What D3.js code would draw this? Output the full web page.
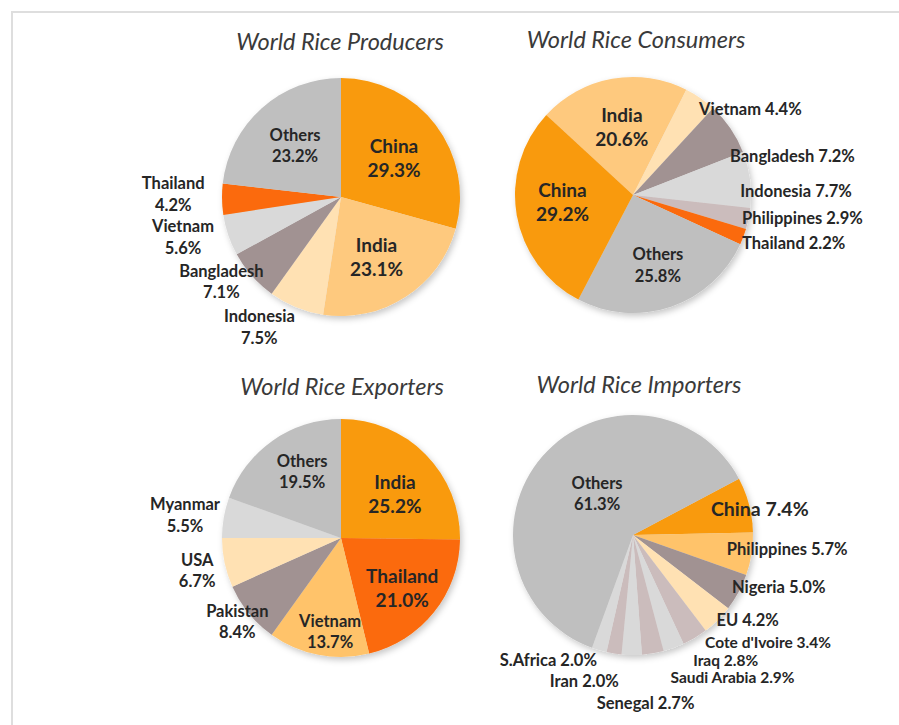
<!DOCTYPE html>
<html>
<head>
<meta charset="utf-8">
<script src="https://cdn.jsdelivr.net/npm/d3@7"></script>
<style>
  html, body { margin: 0; padding: 0; background: #fff; }
  svg { display: block; }
</style>
</head>
<body>
<svg id="chart" width="899" height="725"></svg>
<script>
// ---- data: shares of world rice (%) ----
const producerNames  = ["China", "India", "Indonesia", "Bangladesh", "Vietnam", "Thailand", "Others"];
const producerValues = [29.3, 23.1, 7.5, 7.1, 5.6, 4.2, 23.2];

const consumerNames  = ["India", "Vietnam", "Bangladesh", "Indonesia", "Philippines", "Thailand", "Others", "China"];
const consumerValues = [20.6, 4.4, 7.2, 7.7, 2.9, 2.2, 25.8, 29.2];

const exporterNames  = ["India", "Thailand", "Vietnam", "Pakistan", "USA", "Myanmar", "Others"];
const exporterValues = [25.2, 21.0, 13.7, 8.4, 6.7, 5.5, 19.5];

const importerNames  = ["China", "Philippines", "Nigeria", "EU", "Cote d'Ivoire", "Iraq", "Saudi Arabia", "Senegal", "Iran", "S.Africa", "Others"];
const importerValues = [7.4, 5.7, 5.0, 4.2, 3.4, 2.8, 2.9, 2.7, 2.0, 2.0, 61.3];

const titles = ["World Rice Producers", "World Rice Consumers", "World Rice Exporters", "World Rice Importers"];

// ---- palette ----
const C = {
  orange: "#f99a0e",
  lightOrange: "#fec97e",
  amber: "#ffc36a",
  peach: "#ffe1b3",
  mauve: "#a19292",
  lightGray: "#d9d9d9",
  rosy: "#cbbcbc",
  red: "#fb6a08",
  gray: "#bfbfbf"
};
const producerColors = [C.orange, C.lightOrange, C.peach, C.mauve, C.lightGray, C.red, C.gray];
const consumerColors = [C.lightOrange, C.peach, C.mauve, C.lightGray, C.rosy, C.red, C.gray, C.orange];
const exporterColors = [C.orange, C.red, C.amber, C.mauve, C.peach, C.lightGray, C.gray];
const importerColors = [C.orange, C.amber, C.mauve, C.peach, C.rosy, C.lightGray, C.rosy, C.lightGray, C.rosy, C.lightGray, C.gray];

// ---- label placement: k = radius factor, da = angle shift (deg) from slice middle ----
const big = 19, small = 16.5, side = 16.5, tight = 15.5;
const producerLayout = [
  { k: 0.56, da: 0,   size: big },
  { k: 0.58, da: 2,   size: big },
  { k: 1.29, da: 10,  size: small },
  { k: 1.23, da: 6.4, size: small },
  { k: 1.37, da: 4.5, size: small },
  { k: 1.41, da: 2.1, size: small },
  { k: 0.58, da: 0,   size: small }
];
const consumerLayout = [
  { k: 0.59,  da: 1,    size: big },
  { k: 0.92,  da: 2.7,  size: side, inline: true, anchor: "start" },
  { k: 0.886, da: 12.4, size: side, inline: true, anchor: "start" },
  { k: 0.91,  da: 5.4,  size: side, inline: true, anchor: "start" },
  { k: 0.944, da: 0.3,  size: side, inline: true, anchor: "start" },
  { k: 1.01,  da: 3.1,  size: side, inline: true, anchor: "start" },
  { k: 0.63,  da: -0.7, size: small },
  { k: 0.6,   da: 5,    size: big }
];
const exporterLayout = [
  { k: 0.59,  da: 4.8,  size: big },
  { k: 0.66,  da: 0.3,  size: big },
  { k: 0.79,  da: -4.3, size: small },
  { k: 1.12,  da: 0.3,  size: small },
  { k: 1.24,  da: -0.8, size: small },
  { k: 1.325, da: -1.5, size: small },
  { k: 0.65,  da: 4.9,  size: small }
];
const importerLayout = [
  { k: 1.08,  da: 2.6,   size: 19.5,  inline: true },
  { k: 1.29,  da: -3.9,  size: side,  inline: true },
  { k: 1.29,  da: -8.8,  size: side,  inline: true },
  { k: 1.19,  da: -8.6,  size: side,  inline: true },
  { k: 1.436, da: -20.5, size: tight, inline: true },
  { k: 1.30,  da: -16.6, size: tight, inline: true },
  { k: 1.445, da: -25.5, size: tight, inline: true },
  { k: 1.40,  da: -4.9,  size: side,  inline: true },
  { k: 1.28,  da: 9.4,   size: side,  inline: true },
  { k: 1.26,  da: 17.7,  size: side,  inline: true },
  { k: 0.46,  da: 8.4,   size: small }
];

const panels = [
  { names: producerNames, values: producerValues, colors: producerColors, layout: producerLayout,
    title: titles[0], cx: 341, cy: 197, r: 119, start: 0,     tx: 340, ty: 50 },
  { names: consumerNames, values: consumerValues, colors: consumerColors, layout: consumerLayout,
    title: titles[1], cx: 633, cy: 195, r: 118, start: -47.3, tx: 636, ty: 48 },
  { names: exporterNames, values: exporterValues, colors: exporterColors, layout: exporterLayout,
    title: titles[2], cx: 341, cy: 538, r: 119, start: 0,     tx: 342, ty: 395 },
  { names: importerNames, values: importerValues, colors: importerColors, layout: importerLayout,
    title: titles[3], cx: 633, cy: 535, r: 120, start: 62,    tx: 639, ty: 393 }
];

const svg = d3.select("#chart");
const FONT = "Lato, 'Open Sans', 'DejaVu Sans', sans-serif";
const rad = d3.scaleLinear().domain([0, 360]).range([0, 2 * Math.PI]);

// soft drop shadow under each pie
const defs = svg.append("defs");
defs.append("filter")
  .attr("id", "pieShadow")
  .attr("x", "-20%").attr("y", "-20%").attr("width", "140%").attr("height", "140%")
  .append("feDropShadow")
  .attr("dx", 2).attr("dy", 3).attr("stdDeviation", 3)
  .attr("flood-color", "#000").attr("flood-opacity", 0.22);

// frame
svg.append("rect")
  .attr("x", 12).attr("y", 12)
  .attr("width", 920).attr("height", 760)
  .attr("fill", "none")
  .attr("stroke", "#dedede")
  .attr("stroke-width", 2);

const fmt = v => v.toFixed(1) + "%";

panels.forEach(p => {
  const g = svg.append("g").attr("transform", `translate(${p.cx},${p.cy})`);

  const pie = d3.pie()
    .sort(null)
    .value(d => d)
    .startAngle(rad(p.start))
    .endAngle(rad(p.start + 360));
  const arcs = pie(p.values);
  const arc = d3.arc().innerRadius(0).outerRadius(p.r);

  g.append("g")
    .attr("filter", "url(#pieShadow)")
    .selectAll("path")
    .data(arcs)
    .join("path")
    .attr("d", arc)
    .attr("fill", (d, i) => p.colors[i]);

  // labels
  const lg = g.append("g").attr("fill", "#262626").attr("font-family", FONT);
  arcs.forEach((d, i) => {
    const L = p.layout[i];
    const a = (d.startAngle + d.endAngle) / 2 + rad(L.da);
    const R = p.r * L.k;
    const x = Math.sin(a) * R;
    const y = -Math.cos(a) * R;
    const t = lg.append("text")
      .attr("font-size", L.size)
      .attr("font-weight", 700)
      .attr("text-anchor", L.anchor || "middle")
      .attr("dominant-baseline", "central");
    if (L.inline) {
      t.attr("x", x).attr("y", y).text(p.names[i] + " " + fmt(p.values[i]));
    } else {
      const lh = L.size * 1.28;
      t.append("tspan").attr("x", x).attr("y", y - lh / 2).text(p.names[i]);
      t.append("tspan").attr("x", x).attr("y", y + lh / 2).text(fmt(p.values[i]));
    }
  });

  // title
  svg.append("text")
    .attr("x", p.tx).attr("y", p.ty)
    .attr("text-anchor", "middle")
    .attr("font-family", FONT)
    .attr("font-style", "italic")
    .attr("font-size", 23.5)
    .attr("fill", "#3a3a3a")
    .text(p.title);
});
</script>
</body>
</html>
